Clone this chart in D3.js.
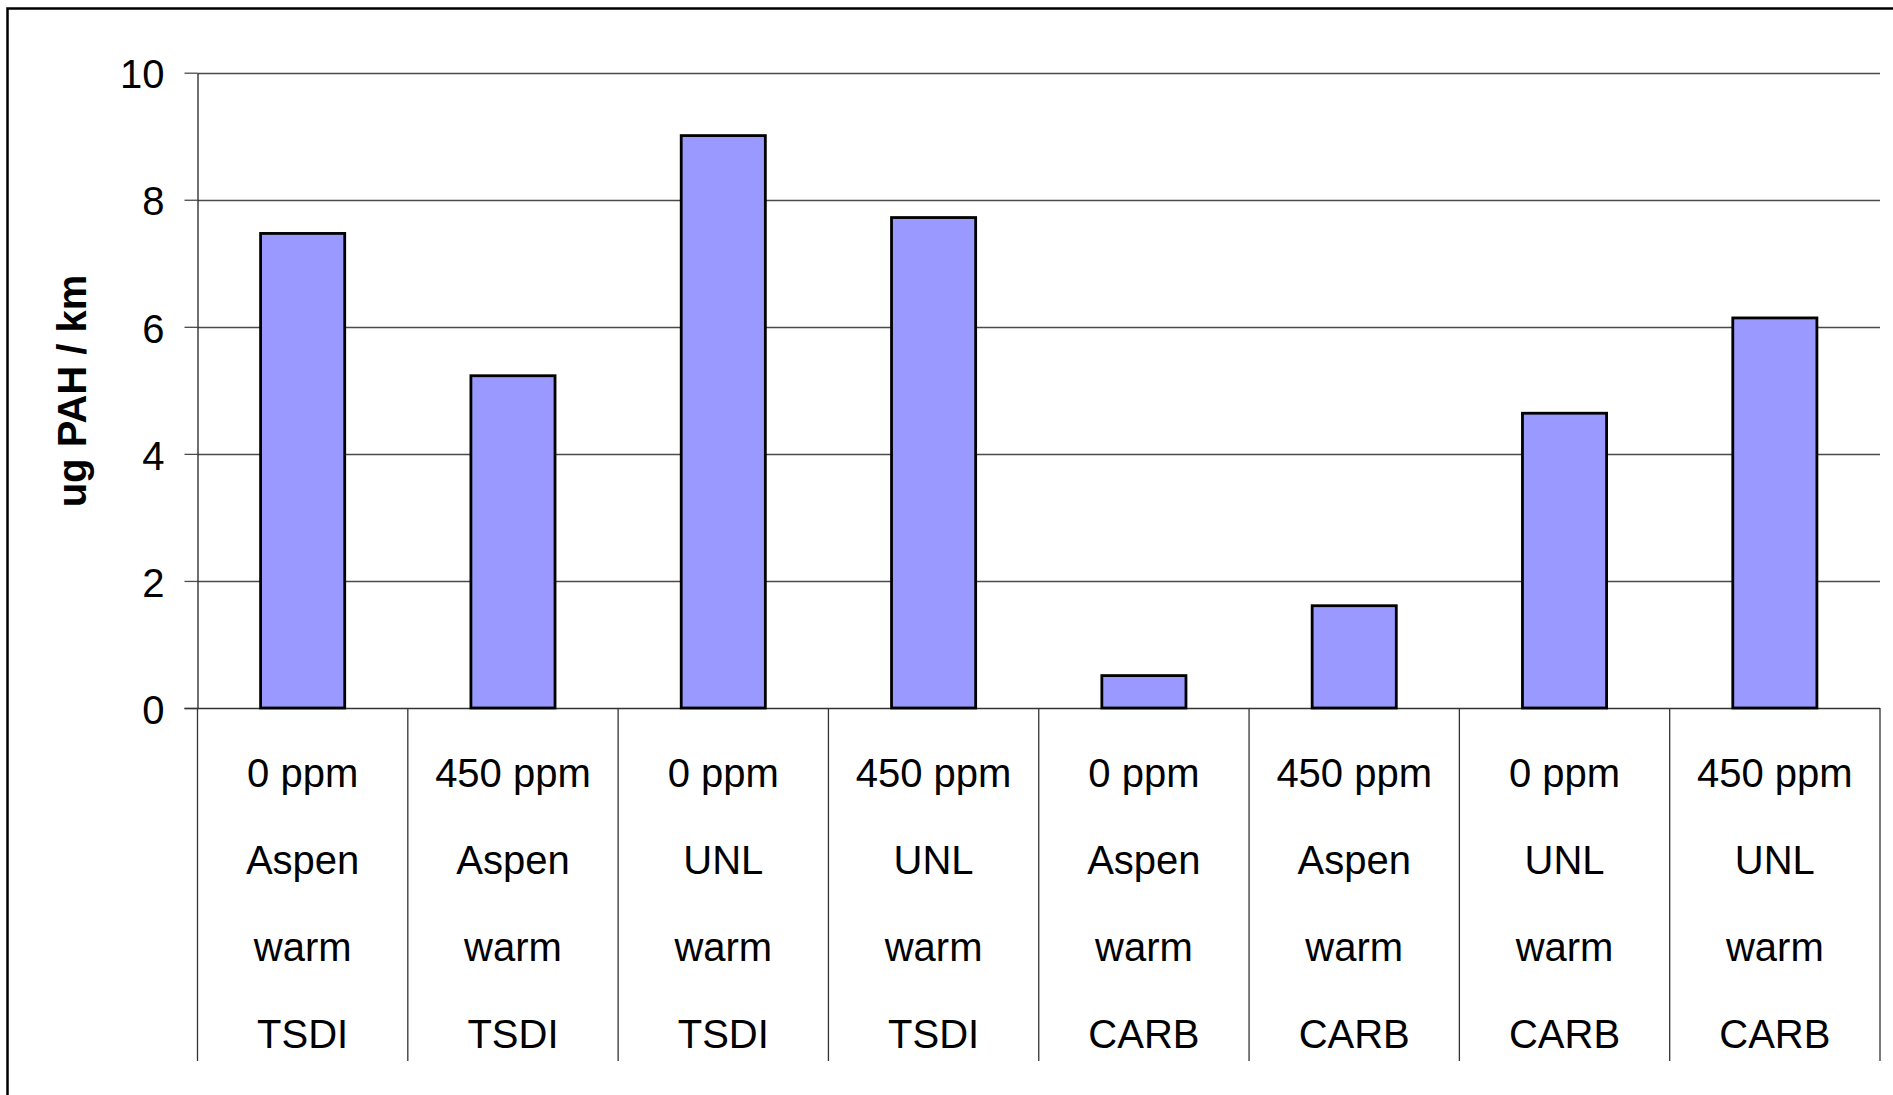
<!DOCTYPE html>
<html>
<head>
<meta charset="utf-8">
<script src="https://cdn.jsdelivr.net/npm/d3@7"></script>
<style>
  html, body { margin: 0; padding: 0; background: #fff; }
  svg { display: block; font-family: "Liberation Sans", Arial, sans-serif; }
</style>
</head>
<body>
<svg id="chart" width="1893" height="1095"></svg>
<script>
// PAH emissions per km for each fuel / sulfur / test-cycle combination
const sulfurLevels = ["0 ppm", "450 ppm", "0 ppm", "450 ppm", "0 ppm", "450 ppm", "0 ppm", "450 ppm"];
const fuels        = ["Aspen", "Aspen", "UNL", "UNL", "Aspen", "Aspen", "UNL", "UNL"];
const starts       = ["warm", "warm", "warm", "warm", "warm", "warm", "warm", "warm"];
const vehicles     = ["TSDI", "TSDI", "TSDI", "TSDI", "CARB", "CARB", "CARB", "CARB"];
const pahValues    = [7.47, 5.23, 9.01, 7.72, 0.51, 1.61, 4.64, 6.14];
const yTicks       = [0, 2, 4, 6, 8, 10];
const yTitle       = "ug PAH / km";

const svg = d3.select("#chart");

// Frame around the whole chart area
svg.append("rect")
  .attr("x", 7.5).attr("y", 8.5)
  .attr("width", 1900).attr("height", 1100)
  .attr("fill", "none").attr("stroke", "#000").attr("stroke-width", 2.5);

const plotLeft = 197.5, plotRight = 1880, plotTop = 72.7, plotBase = 708;
const labelBottom = 1061;

const idx = d3.range(pahValues.length);
const x = d3.scaleBand().domain(idx).range([plotLeft, plotRight])
  .paddingInner(0.6).paddingOuter(0.3);
const y = d3.scaleLinear().domain([0, 10]).range([plotBase, plotTop]);

// Horizontal gridlines
svg.append("g")
  .selectAll("line").data(yTicks.filter(d => d > 0)).join("line")
  .attr("x1", plotLeft).attr("x2", plotRight)
  .attr("y1", d => Math.round(y(d)) + 0.5).attr("y2", d => Math.round(y(d)) + 0.5)
  .attr("stroke", "#4a4a4a").attr("stroke-width", 1.3);

// Y axis with outward ticks
const yAxis = svg.append("g")
  .attr("transform", `translate(${plotLeft},0)`)
  .call(d3.axisLeft(y).tickValues(yTicks).tickSize(13).tickPadding(20).tickSizeOuter(0));
yAxis.select(".domain").attr("stroke", "#222").attr("stroke-width", 1.3);
yAxis.selectAll(".tick line").attr("stroke", "#4a4a4a").attr("stroke-width", 1.3);
yAxis.selectAll(".tick text")
  .attr("font-size", 40).attr("fill", "#000")
  .attr("font-family", "'Liberation Sans', Arial, sans-serif")
  .attr("dy", "0.38em");

// Baseline
svg.append("line")
  .attr("x1", plotLeft - 13).attr("x2", plotRight)
  .attr("y1", plotBase + 0.5).attr("y2", plotBase + 0.5)
  .attr("stroke", "#333").attr("stroke-width", 1.3);

// Category dividers below the baseline
const step = x.step();
const bounds = d3.range(pahValues.length + 1).map(i => plotLeft + i * step);
svg.append("g")
  .selectAll("line").data(bounds).join("line")
  .attr("x1", d => d).attr("x2", d => d)
  .attr("y1", plotBase).attr("y2", labelBottom)
  .attr("stroke", "#333").attr("stroke-width", 1.3);

// Bars
svg.append("g")
  .selectAll("rect").data(pahValues).join("rect")
  .attr("x", (d, i) => x(i))
  .attr("y", d => y(d))
  .attr("width", x.bandwidth())
  .attr("height", d => plotBase - y(d))
  .attr("fill", "#9999ff")
  .attr("stroke", "#000").attr("stroke-width", 2.8);

// Multi-line category labels
const rows = [sulfurLevels, fuels, starts, vehicles];
const rowBaselines = [787, 874, 961, 1048];
const labels = svg.append("g")
  .attr("font-size", 40).attr("fill", "#000").attr("text-anchor", "middle");
rows.forEach((row, r) => {
  labels.selectAll(null).data(row).join("text")
    .attr("x", (d, i) => plotLeft + (i + 0.5) * step)
    .attr("y", rowBaselines[r])
    .text(d => d);
});

// Y axis title
svg.append("text")
  .attr("transform", `translate(86,391) rotate(-90)`)
  .attr("text-anchor", "middle")
  .attr("font-size", 40).attr("font-weight", "bold").attr("fill", "#000")
  .text(yTitle);
</script>
</body>
</html>
